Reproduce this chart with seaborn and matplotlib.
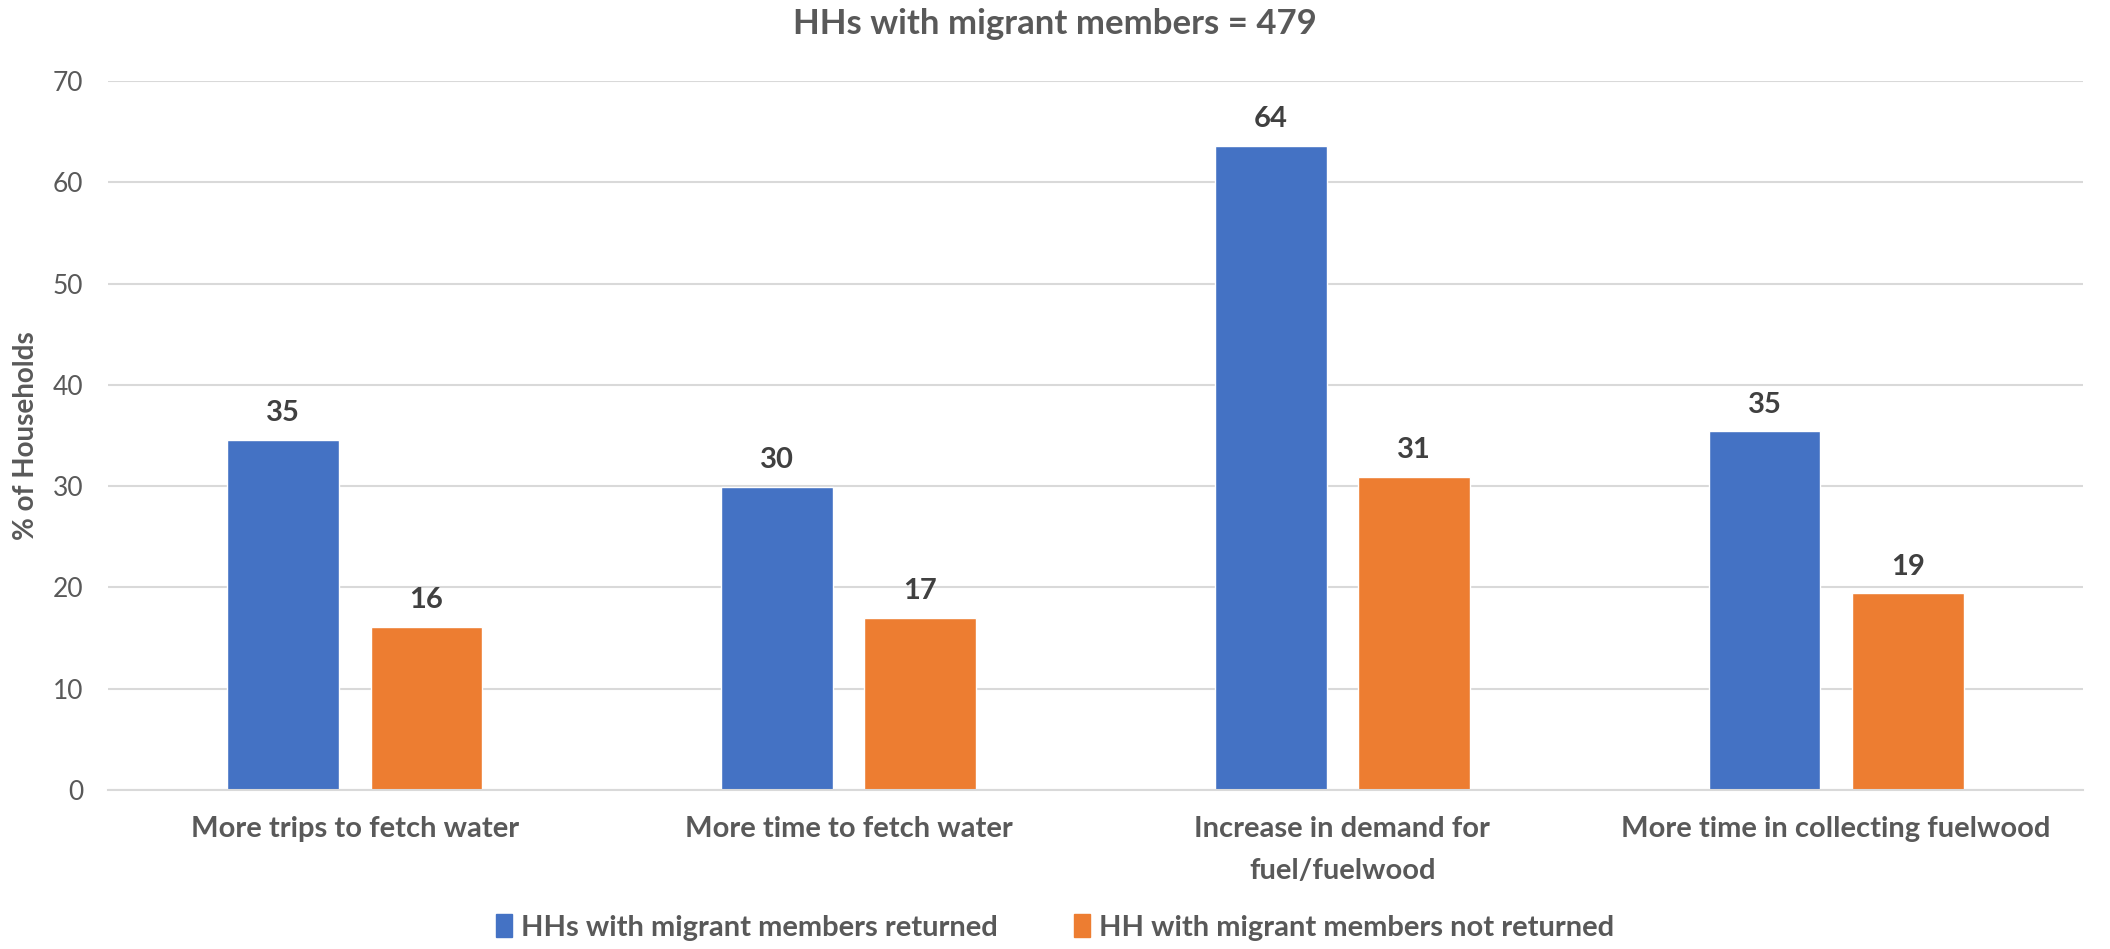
import pandas as pd
import seaborn as sns
import matplotlib.pyplot as plt

categories = ["More trips to fetch water", "More time to fetch water",
              "Increase in demand for\nfuel/fuelwood", "More time in collecting fuelwood"]
series = ["HHs with migrant members returned", "HH with migrant members not returned"]
returned = [34.6, 29.9, 63.6, 35.4]
not_returned = [16.1, 17.0, 30.9, 19.4]
colors = ["#4472C4", "#ED7D31"]

df = pd.DataFrame({
    "category": categories * 2,
    "group": [series[0]] * 4 + [series[1]] * 4,
    "value": returned + not_returned,
})

sns.set_style("white")
plt.rcParams['font.family'] = ['Lato', 'DejaVu Sans']

fig = plt.figure(figsize=(21.1, 9.49), dpi=100)
ax = fig.add_axes([0.0512, 0.1676, 0.936, 0.747])

sns.barplot(data=df, x="category", y="value", hue="group", palette=colors,
            width=0.58, gap=0.22, ax=ax, legend=False, saturation=1)

ax.set_ylim(0, 70)
ax.set_xlim(-0.5, 3.5)
ax.set_yticks(range(0, 71, 10))
ax.yaxis.grid(True, color="#D9D9D9", linewidth=1.5)
ax.set_axisbelow(True)
for s in ["top", "right", "left"]:
    ax.spines[s].set_visible(False)
ax.spines["bottom"].set_color("#D9D9D9")
ax.spines["bottom"].set_linewidth(1.5)

ax.tick_params(axis="y", length=0, pad=18, labelsize=19, labelcolor="#595959")
ax.tick_params(axis="x", length=0, pad=19, labelsize=21, labelcolor="#595959")
for t in ax.get_xticklabels():
    t.set_fontweight("bold")
    t.set_linespacing(1.75)

ax.set_xlabel("")
ax.set_ylabel("% of Households", fontsize=20, fontweight="bold", color="#595959", labelpad=10)

for cont in ax.containers:
    ax.bar_label(cont, fmt="%.0f", padding=10, fontsize=21, fontweight="bold", color="#404040")

fig.text(0.5, 0.975, "HHs with migrant members = 479", ha="center", va="center",
         fontsize=25, fontweight="bold", color="#595959")

handles = [plt.Rectangle((0, 0), 1, 1, color=c) for c in colors]
fig.legend(handles, series, loc="center", bbox_to_anchor=(0.5, 0.023), ncol=2, frameon=False,
           labelcolor="#595959", handlelength=0.55, handleheight=0.85,
           handletextpad=0.3, columnspacing=2.6, prop={"weight": "bold", "size": 21})

fig.savefig("out.png", dpi=100)
